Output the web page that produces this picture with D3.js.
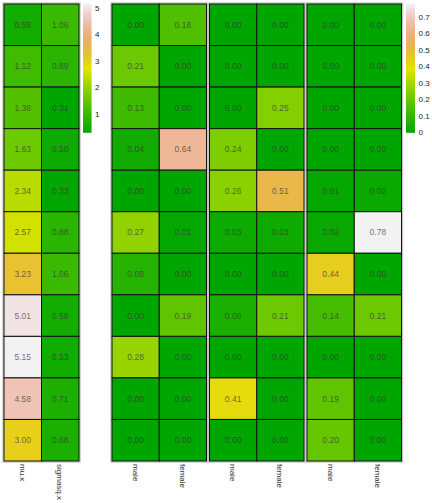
<!DOCTYPE html>
<html>
<head>
<meta charset="utf-8">
<script src="https://cdn.jsdelivr.net/npm/d3@7"></script>
<style>
  body { margin: 0; background: #fff; }
  text { font-family: "Liberation Sans", Arial, sans-serif; }
</style>
</head>
<body>
<div id="container"></div>
<script>
// DATA
const rows = d3.range(11);
const leftCols = ["mu.x", "sigmasq.x"];
const muX = [0.58, 1.12, 1.36, 1.63, 2.34, 2.57, 3.23, 5.01, 5.15, 4.58, 3.00];
const sigmasqX = [1.06, 0.89, 0.31, 0.50, 0.33, 0.88, 1.06, 0.58, 0.53, 0.71, 0.68];

const sexCols = ["male", "female"];
const p1Male = [0.00, 0.21, 0.13, 0.04, 0.00, 0.27, 0.08, 0.00, 0.28, 0.00, 0.00];
const p1Female = [0.16, 0.00, 0.00, 0.64, 0.00, 0.01, 0.00, 0.19, 0.00, 0.00, 0.00];
const p2Male = [0.00, 0.00, 0.00, 0.24, 0.26, 0.03, 0.00, 0.06, 0.00, 0.41, 0.00];
const p2Female = [0.00, 0.00, 0.25, 0.00, 0.51, 0.03, 0.00, 0.21, 0.00, 0.00, 0.00];
const p3Male = [0.00, 0.00, 0.00, 0.00, 0.01, 0.02, 0.44, 0.14, 0.00, 0.19, 0.20];
const p3Female = [0.00, 0.00, 0.00, 0.00, 0.02, 0.78, 0.00, 0.21, 0.00, 0.00, 0.00];

const leftTicks = [1, 2, 3, 4, 5];
const rightTicks = [0, 0.1, 0.2, 0.3, 0.4, 0.5, 0.6, 0.7];

// VARIABLES
const width = 432, height = 503;
const yTop = 4, yBottom = 461;

// terrain.colors style: hsv ramp green -> yellow -> white
function hsv(h, s, v) {
  const c = v * s, hp = h / 60, x = c * (1 - Math.abs(hp % 2 - 1));
  let r = 0, g = 0, b = 0;
  if (hp < 1) { r = c; g = x; } else if (hp < 2) { r = x; g = c; }
  else if (hp < 3) { g = c; b = x; } else if (hp < 4) { g = x; b = c; }
  else if (hp < 5) { r = x; b = c; } else { r = c; b = x; }
  const m = v - c;
  return d3.rgb((r + m) * 255, (g + m) * 255, (b + m) * 255).formatHex();
}
function terrain(t) {
  t = Math.max(0, Math.min(1, t));
  if (t <= 0.5) {
    const u = t / 0.5;
    return hsv(120 - 60 * u, 1, 0.65 + 0.25 * u);
  }
  const u = (t - 0.5) / 0.5;
  return hsv(60 - 60 * u, 1 - u, 0.9 + 0.05 * u);
}

const leftAll = muX.concat(sigmasqX);
const leftColor = d3.scaleSequential(terrain).domain(d3.extent(leftAll));
const rightAll = [].concat(p1Male, p1Female, p2Male, p2Female, p3Male, p3Female);
const rightColor = d3.scaleSequential(terrain).domain(d3.extent(rightAll));

const yScale = d3.scaleBand().domain(rows).range([yTop, yBottom]);

const svg = d3.select("#container").append("svg")
  .attr("width", width).attr("height", height);

// PANELS
const panels = [
  {x0: 4, x1: 79, cols: leftCols, series: [muX, sigmasqX], color: leftColor},
  {x0: 112, x1: 206.5, cols: sexCols, series: [p1Male, p1Female], color: rightColor},
  {x0: 209.5, x1: 304, cols: sexCols, series: [p2Male, p2Female], color: rightColor},
  {x0: 307, x1: 401.5, cols: sexCols, series: [p3Male, p3Female], color: rightColor}
];

panels.forEach(p => {
  const xScale = d3.scaleBand().domain(p.cols).range([p.x0, p.x1]);
  const g = svg.append("g");

  g.append("rect")
    .attr("x", p.x0 - 1).attr("y", yTop - 1)
    .attr("width", p.x1 - p.x0 + 2).attr("height", yBottom - yTop + 2)
    .attr("fill", "none").attr("stroke", "#c8c8c8").attr("stroke-width", 1.5);

  const cells = [];
  p.cols.forEach((c, i) => rows.forEach(r => cells.push({col: c, row: r, v: p.series[i][r]})));

  g.selectAll("rect.cell").data(cells).join("rect")
    .attr("class", "cell")
    .attr("x", d => xScale(d.col))
    .attr("y", d => yScale(d.row))
    .attr("width", xScale.bandwidth())
    .attr("height", yScale.bandwidth())
    .attr("fill", d => p.color(d.v))
    .attr("stroke", "#111")
    .attr("stroke-width", 1);

  g.selectAll("text.val").data(cells).join("text")
    .attr("class", "val")
    .attr("x", d => xScale(d.col) + xScale.bandwidth() / 2)
    .attr("y", d => yScale(d.row) + yScale.bandwidth() / 2)
    .attr("dy", "0.35em")
    .attr("text-anchor", "middle")
    .attr("font-size", 8.5)
    .attr("fill", "#333")
    .attr("fill-opacity", 0.7)
    .text(d => d.v.toFixed(2));

  g.selectAll("text.xlab").data(p.cols).join("text")
    .attr("class", "xlab")
    .attr("transform", d => `translate(${xScale(d) + xScale.bandwidth() / 2 - 3},${yBottom + 3}) rotate(90)`)
    .attr("font-size", 8)
    .attr("fill", "#333")
    .text(d => d);
});

// COLORBARS
function colorbar(x, w, color, ticks) {
  const dom = color.domain();
  const cy = d3.scaleLinear().domain(dom).range([132.5, yTop]);
  const steps = d3.range(64).map(i => dom[0] + (dom[1] - dom[0]) * i / 64);
  const stepH = (132.5 - yTop) / 64;
  const g = svg.append("g");
  g.selectAll("rect").data(steps).join("rect")
    .attr("x", x).attr("width", w)
    .attr("y", d => cy(d) - stepH - 0.3)
    .attr("height", stepH + 0.6)
    .attr("fill", d => color(d + (dom[1] - dom[0]) / 128));
  g.selectAll("text").data(ticks).join("text")
    .attr("x", x + w + 3.5)
    .attr("y", d => cy(d))
    .attr("dy", "0.35em")
    .attr("font-size", 8)
    .attr("fill", "#222")
    .text(d => d);
}
colorbar(83, 8.5, leftColor, leftTicks);
colorbar(406, 9, rightColor, rightTicks);
</script>
</body>
</html>
